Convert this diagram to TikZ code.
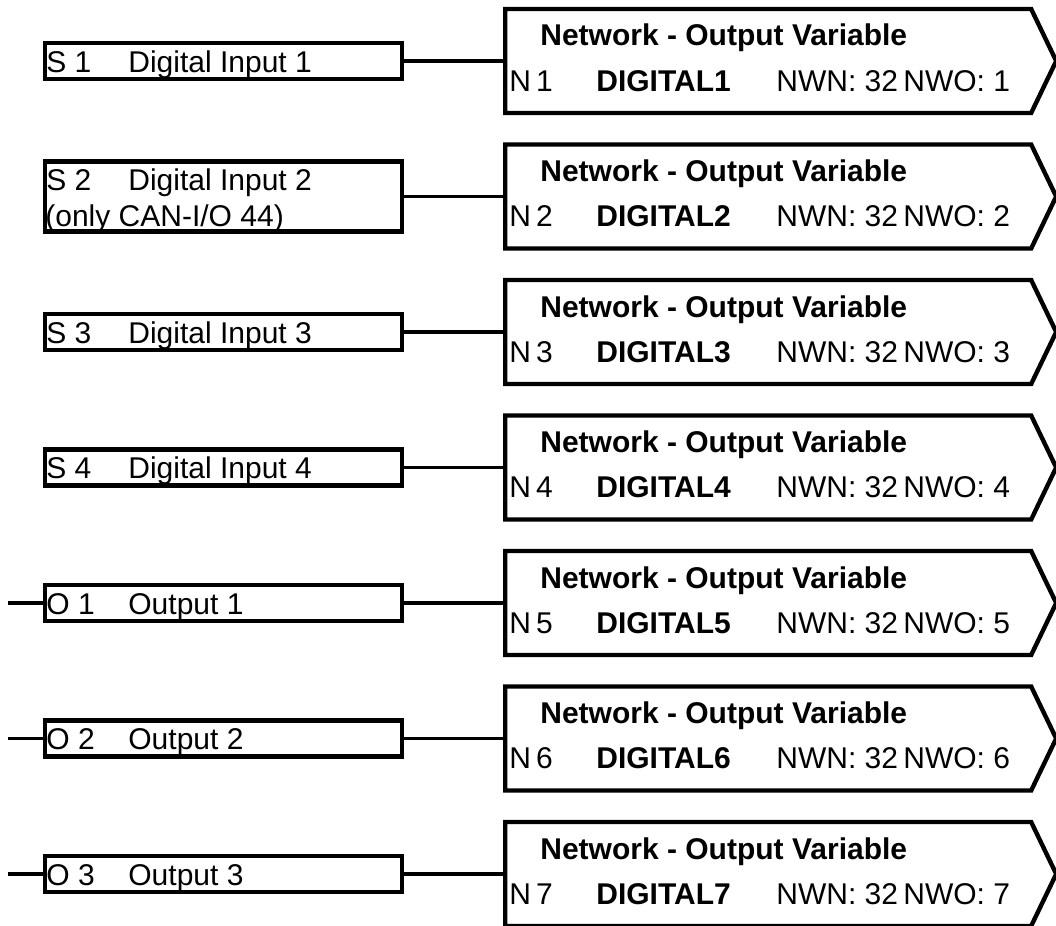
\documentclass[tikz,border=0pt]{standalone}
\usepackage{fontspec}
\setmainfont{Liberation Sans}
\usetikzlibrary{shapes.symbols}

\tikzset{
  inbox/.style={draw,line width=2.2pt,minimum width=178.5pt,minimum height=18pt,inner sep=0pt,anchor=west},
  netbox/.style={signal,signal to=east,signal from=nowhere,signal pointer angle=128.6,draw,line width=2.2pt,
    minimum width=275.5pt,minimum height=52pt,inner sep=0pt,anchor=west},
  wire/.style={line width=1.6pt},
  lbl/.style={anchor=base west,inner sep=0pt,font=\fontsize{15}{17}\selectfont},
  blbl/.style={lbl,font=\fontsize{15}{17}\selectfont\bfseries}
}

\begin{document}
\begin{tikzpicture}[x=0.5pt,y=-0.5pt]
\fill[white] (0,0) rectangle (1056,926);
\useasboundingbox (0,0) rectangle (1056,926);
\foreach \k in {1,...,7}{
  \pgfmathsetmacro{\rowy}{61+135.5*(\k-1)}
  \node[netbox] (nv\k) at (503,\rowy) {};
  \node[blbl] (nvh\k) at (540,\rowy-15) {Network - Output Variable};
  \node[lbl] (nvn\k) at (509,\rowy+30) {N\,\k};
  \node[blbl] (nvd\k) at (596,\rowy+30) {DIGITAL\k};
  \node[lbl] (nvw\k) at (776,\rowy+30) {NWN: 32};
  \node[lbl] (nvo\k) at (903,\rowy+30) {NWO: \k};
}
\foreach \k/\s/\name in {1/S 1/Digital Input 1,3/S 3/Digital Input 3,4/S 4/Digital Input 4,
                         5/O 1/Output 1,6/O 2/Output 2,7/O 3/Output 3}{
  \pgfmathsetmacro{\rowy}{61+135.5*(\k-1)}
  \node[inbox] (in\k) at (43,\rowy) {};
  \node[lbl] (ins\k) at (46,\rowy+11) {\s};
  \node[lbl] (inn\k) at (128,\rowy+11) {\name};
  \draw[wire] (in\k.east) -- (nv\k.west);
}
\node[inbox,minimum height=35pt] (in2) at (43,196.5) {};
\node[lbl] (ins2) at (46,190) {S 2};
\node[lbl] (inn2) at (128,190) {Digital Input 2};
\node[lbl] (inc2) at (45,226) {(only CAN-I/O 44)};
\draw[wire] (in2.east) -- (nv2.west);
\foreach \k in {5,6,7}{
  \coordinate (st\k) at ([xshift=-17.5pt]in\k.west);
  \draw[wire] (st\k) -- (in\k.west);
}
\end{tikzpicture}
\end{document}
